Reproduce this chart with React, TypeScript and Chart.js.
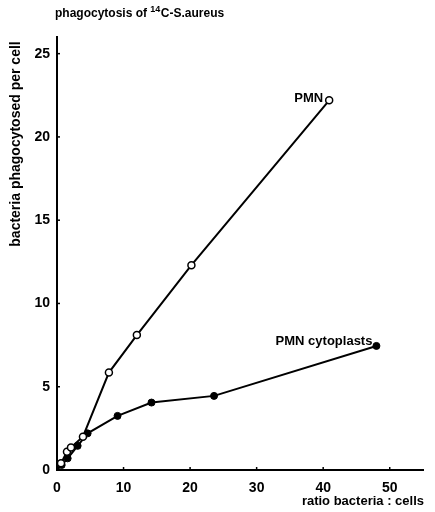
import React, { useEffect, useRef } from "react";
import { Chart, registerables } from "chart.js";

Chart.register(...registerables);

const pmnX = [0, 0.6, 1.5, 2.1, 3.9, 7.8, 12.0, 20.2, 40.9];
const pmnY = [0, 0.4, 1.1, 1.35, 2.0, 5.85, 8.1, 12.3, 22.2];
const cytoX = [0, 0.7, 1.6, 3.1, 4.6, 9.1, 14.2, 23.6, 48.0];
const cytoY = [0, 0.3, 0.7, 1.45, 2.2, 3.25, 4.05, 4.45, 7.45];
const xTicks = [0, 10, 20, 30, 40, 50];
const yTicks = [0, 5, 10, 15, 20, 25];

const FONT = "'Liberation Sans', Arial, Helvetica, sans-serif";

const textPlugin = {
  id: "texts",
  afterDraw(chart: any) {
    const ctx = chart.ctx;
    const xs = chart.scales.x;
    const ys = chart.scales.y;
    ctx.save();
    ctx.fillStyle = "#000";
    ctx.strokeStyle = "#000";
    // inward tick marks
    ctx.lineWidth = 1.5;
    xTicks.slice(1).forEach((v) => {
      const px = xs.getPixelForValue(v);
      ctx.beginPath();
      ctx.moveTo(px, ys.bottom);
      ctx.lineTo(px, ys.bottom - 3);
      ctx.stroke();
    });
    yTicks.slice(1).forEach((v) => {
      const py = ys.getPixelForValue(v);
      ctx.beginPath();
      ctx.moveTo(xs.left, py);
      ctx.lineTo(xs.left + 3, py);
      ctx.stroke();
    });

    // title with superscript
    ctx.textBaseline = "alphabetic";
    ctx.textAlign = "left";
    let x = 55;
    const base = 17;
    ctx.font = `bold 12px ${FONT}`;
    const t1 = "phagocytosis of ";
    ctx.fillText(t1, x, base);
    x += ctx.measureText(t1).width;
    ctx.font = `bold 9px ${FONT}`;
    ctx.fillText("14", x, base - 5);
    x += ctx.measureText("14").width + 0.5;
    ctx.font = `bold 12px ${FONT}`;
    ctx.fillText("C-S.aureus", x, base);

    // series labels
    ctx.font = `bold 13px ${FONT}`;
    ctx.textAlign = "right";
    const lp = pmnX.length - 1;
    ctx.fillText("PMN", xs.getPixelForValue(pmnX[lp]) - 6, ys.getPixelForValue(pmnY[lp]) + 2);
    const lc = cytoX.length - 1;
    ctx.fillText("PMN cytoplasts", xs.getPixelForValue(cytoX[lc]) - 4, ys.getPixelForValue(cytoY[lc]) - 1);

    // x axis title
    ctx.font = `bold 13px ${FONT}`;
    ctx.textAlign = "right";
    ctx.fillText("ratio bacteria : cells", 424, 505);

    // y axis title
    ctx.font = `bold 14px ${FONT}`;
    ctx.translate(20, 144);
    ctx.rotate(-Math.PI / 2);
    ctx.textAlign = "center";
    ctx.fillText("bacteria phagocytosed per cell", 0, 0);
    ctx.restore();
  },
};

export default function App() {
  const ref = useRef<HTMLCanvasElement | null>(null);
  useEffect(() => {
    if (!ref.current) return;
    const chart = new Chart(ref.current, {
      type: "scatter",
      data: {
        datasets: [
          {
            label: "PMN",
            data: pmnX.map((v, i) => ({ x: v, y: pmnY[i] })),
            showLine: true,
            borderColor: "#000",
            borderWidth: 2,
            pointRadius: (c: any) => (c.dataIndex === 0 ? 0 : 3.5),
            pointBackgroundColor: "#fff",
            pointBorderColor: "#000",
            pointBorderWidth: 1.5,
            clip: false,
          },
          {
            label: "PMN cytoplasts",
            data: cytoX.map((v, i) => ({ x: v, y: cytoY[i] })),
            showLine: true,
            borderColor: "#000",
            borderWidth: 2,
            pointRadius: (c: any) => (c.dataIndex === 0 ? 0 : 3.5),
            pointBackgroundColor: "#000",
            pointBorderColor: "#000",
            pointBorderWidth: 1,
            clip: false,
          },
        ],
      },
      options: {
        animation: false,
        responsive: false,
        maintainAspectRatio: false,
        layout: { padding: { left: 0, top: 37, right: 12, bottom: 0 } },
        plugins: { legend: { display: false }, tooltip: { enabled: false } },
        scales: {
          x: {
            type: "linear",
            min: 0,
            max: 55,
            afterBuildTicks: (s: any) => {
              s.ticks = xTicks.map((v) => ({ value: v }));
            },
            afterFit: (s: any) => {
              s.height = 42;
            },
            ticks: {
              color: "#000",
              font: { family: FONT, size: 14, weight: "bold" },
              padding: 10,
              maxRotation: 0,
            },
            grid: { display: true, drawOnChartArea: false, drawTicks: false },
            border: { display: true, color: "#000", width: 2 },
          },
          y: {
            type: "linear",
            min: 0,
            max: 26,
            afterBuildTicks: (s: any) => {
              s.ticks = yTicks.map((v) => ({ value: v }));
            },
            afterFit: (s: any) => {
              s.width = 57;
            },
            ticks: {
              color: "#000",
              font: { family: FONT, size: 14, weight: "bold" },
              padding: 7,
            },
            grid: { display: true, drawOnChartArea: false, drawTicks: false },
            border: { display: true, color: "#000", width: 2 },
          },
        },
      },
      plugins: [textPlugin],
    });
    return () => chart.destroy();
  }, []);
  return (
    <div style={{ position: "fixed", left: 0, top: 0, width: 435, height: 512, background: "#fff" }}>
      <canvas ref={ref} width={435} height={512} style={{ width: 435, height: 512, display: "block" }} />
    </div>
  );
}
